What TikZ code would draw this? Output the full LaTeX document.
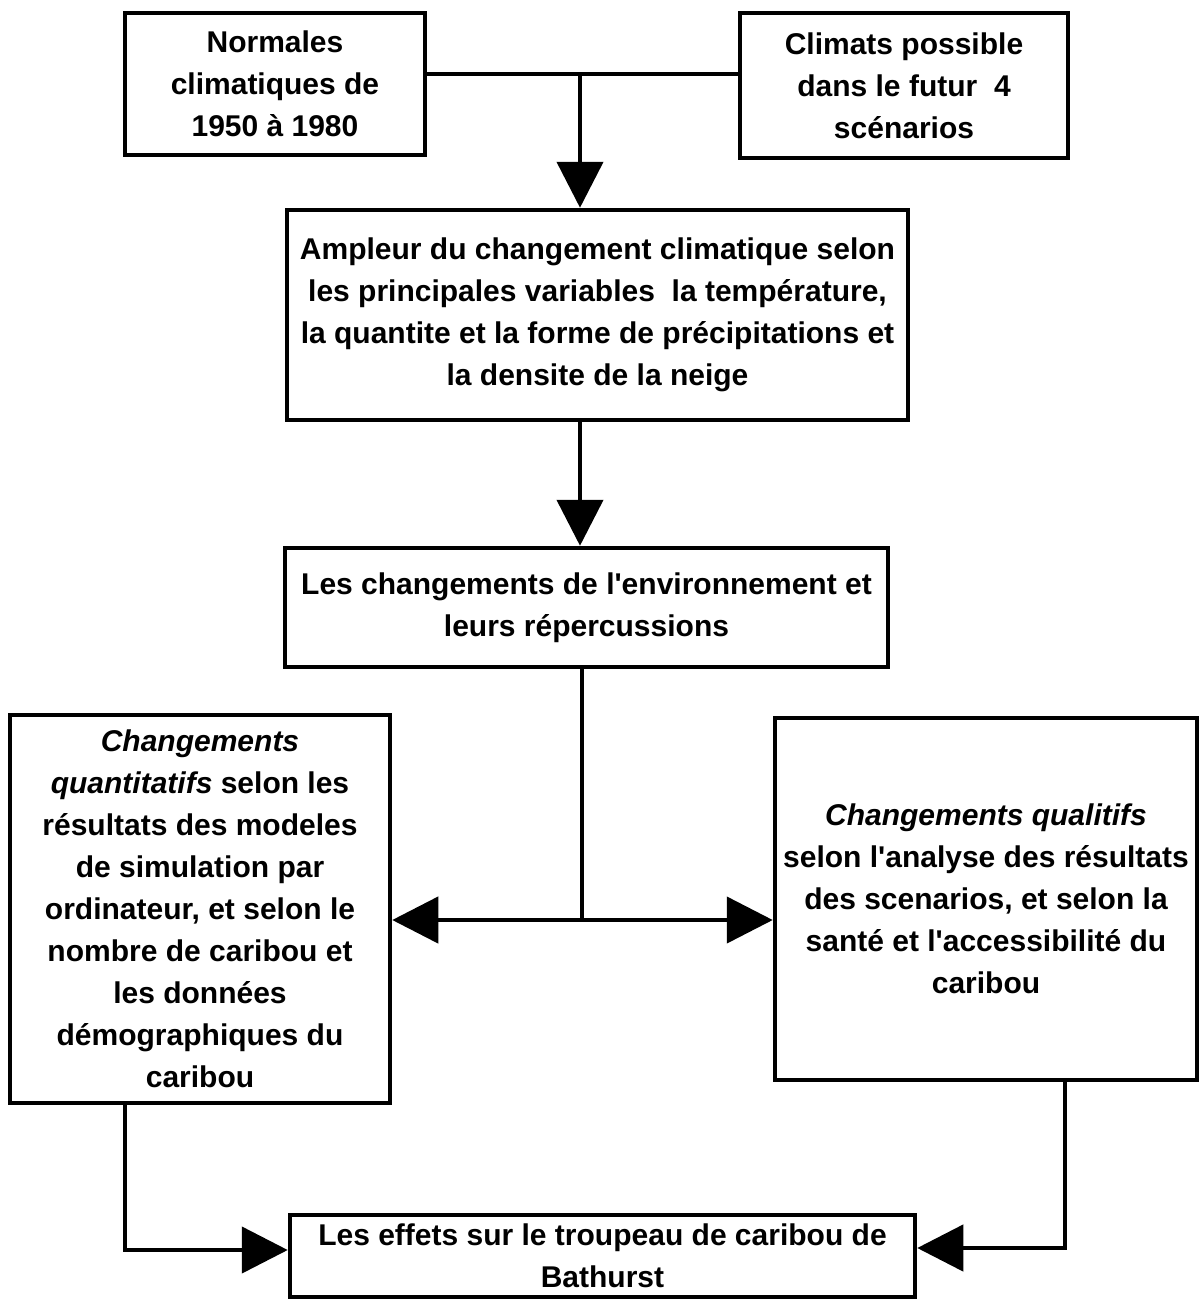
\documentclass[tikz,border=0pt]{standalone}
\usepackage{fontspec}
\newfontfamily\arl{Liberation Sans}
\usetikzlibrary{arrows.meta}
\begin{document}
\begin{tikzpicture}[x=1pt,y=-1pt,
  box/.style={draw, line width=4.5pt, rectangle, align=center, inner sep=0pt,
    font=\arl\bfseries\fontsize{30}{42}\selectfont},
  conn/.style={line width=4.5pt},
  arr/.style={line width=4.5pt, -{Triangle[length=46pt,width=46pt]}}]
\useasboundingbox (0,0) rectangle (1199,1301);
\node[box, minimum width=300pt, minimum height=142pt] (b1) at (275,84)
  {Normales\\climatiques de\\1950 à 1980};
\node[box, minimum width=328pt, minimum height=145pt] (b2) at (904,85.5)
  {Climats possible\\dans le futur\ \ 4\\scénarios};
\node[box, minimum width=621pt, minimum height=210pt] (b3) at (597.5,315)
  {Ampleur du changement climatique selon\\les principales variables\ \ la température,\\la quantite et la forme de précipitations et\\la densite de la neige};
\node[box, minimum width=603pt, minimum height=119pt] (b4) at (586.5,607.5)
  {Les changements de l'environnement et\\leurs répercussions};
\node[box, minimum width=380pt, minimum height=388pt] (b5) at (200,909)
  {\itshape Changements\\\itshape quantitatifs\upshape{} selon les\\résultats des modeles\\de simulation par\\ordinateur, et selon le\\nombre de caribou et\\les données\\démographiques du\\caribou};
\node[box, minimum width=422pt, minimum height=362pt] (b6) at (986,899)
  {\itshape Changements qualitifs\\selon l'analyse des résultats\\des scenarios, et selon la\\santé et l'accessibilité du\\caribou};
\node[box, minimum width=625pt, minimum height=82pt] (b7) at (602.5,1256)
  {Les effets sur le troupeau de caribou de\\Bathurst};
\coordinate (j1) at (580,74);
\draw[conn] (b1.east |- j1) -- (b2.west |- j1);
\draw[arr] (j1) -- (j1 |- b3.north);
\draw[arr] (b3.south -| j1) -- (b4.north -| j1);
\coordinate (j2) at (582,920);
\draw[conn] (b4.south -| j2) -- (j2);
\draw[arr] (j2) -- (b5.east |- j2);
\draw[arr] (j2) -- (b6.west |- j2);
\coordinate (c1) at (125,1250);
\draw[arr] (b5.south -| c1) -- (c1) -- (c1 -| b7.west);
\coordinate (c2) at (1065,1248);
\draw[arr] (b6.south -| c2) -- (c2) -- (c2 -| b7.east);
\end{tikzpicture}
\end{document}
